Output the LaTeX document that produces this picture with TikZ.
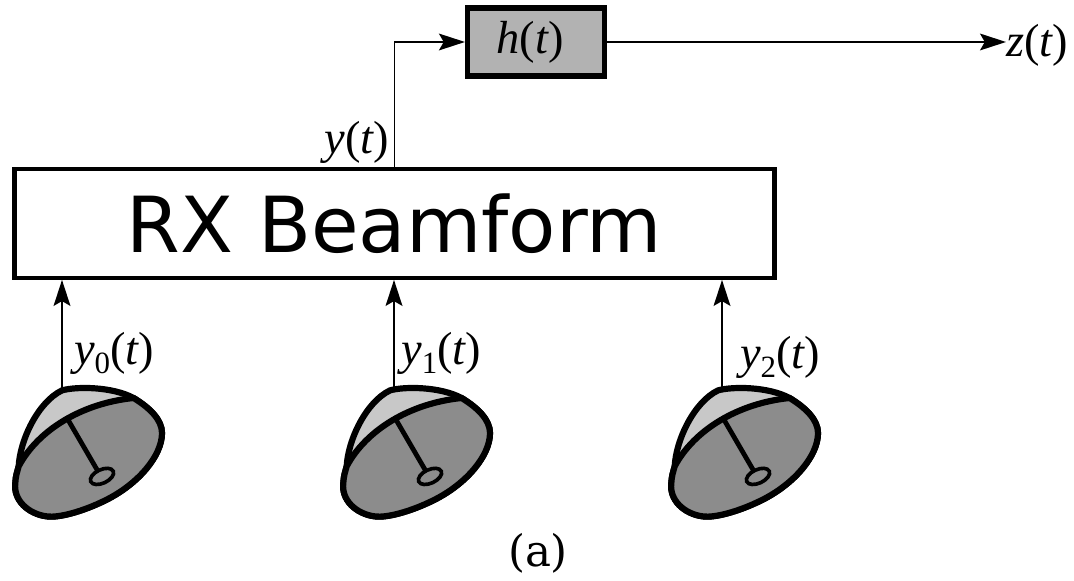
\documentclass[tikz,border=0pt]{standalone}
\usepackage{fontspec}
\setmainfont{DejaVu Sans}
\newfontfamily\timesf{Liberation Serif}
\newfontfamily\captf{DejaVu Serif}
\usetikzlibrary{arrows.meta,positioning}
\definecolor{dishlight}{RGB}{200,200,200}
\definecolor{dishdark}{RGB}{140,140,140}
\definecolor{filtergray}{RGB}{178,178,178}
\newcommand{\sigfn}[1]{{\timesf\itshape #1}{\timesf(}{\timesf\itshape t}{\timesf)}}
\newcommand{\sigsub}[2]{{\timesf\itshape #1}\raisebox{-0.2em}{\timesf\fontsize{22}{22}\selectfont #2}{\timesf(}{\timesf\itshape t}{\timesf)}}
\tikzset{
  rxbox/.style={draw, line width=3pt, fill=white, font=\fontsize{55}{58}\selectfont,
                minimum width=19cm, minimum height=2.72cm, inner sep=0pt},
  filterbox/.style={draw, line width=3.8pt, fill=filtergray, font=\fontsize{33}{36}\selectfont,
                    minimum width=3.42cm, minimum height=1.7cm, inner sep=0pt},
  siglabel/.style={font=\fontsize{33}{36}\selectfont, inner sep=0pt},
  capt/.style={font=\captf\fontsize{31}{34}\selectfont, inner sep=0pt},
  wire/.style={line width=1.2pt, -{Stealth[length=0.65cm, width=0.42cm, inset=0.12cm]}},
  dish/.pic={
    % dome
    \draw[line width=4.4pt, fill=dishlight, line join=round]
      (-1.083,-1.958) .. controls (-1.05,-1.3) and (-0.6,-0.35) .. (0,-0.06)
      .. controls (0.35,0.04) and (1.25,0.04) .. (1.79,-0.25)
      .. controls (2.2,-0.5) and (2.5,-0.8) .. (2.5,-1.125)
      .. controls (2.5,-1.7) and (1.9,-2.4) .. (1.1,-2.8)
      .. controls (0.5,-3.1) and (-0.1,-3.25) .. (-0.375,-3.21)
      .. controls (-0.85,-3.15) and (-1.22,-2.8) .. (-1.167,-2.375)
      .. controls (-1.16,-2.2) and (-1.12,-2.1) .. (-1.083,-1.958) -- cycle;
    % disc
    \draw[line width=4.4pt, fill=dishdark, line join=round]
      (-1.083,-1.958) .. controls (-0.6,-1.05) and (0.5,-0.38) .. (1.79,-0.25)
      .. controls (2.2,-0.5) and (2.5,-0.8) .. (2.5,-1.125)
      .. controls (2.5,-1.7) and (1.9,-2.4) .. (1.1,-2.8)
      .. controls (0.5,-3.1) and (-0.1,-3.25) .. (-0.375,-3.21)
      .. controls (-0.85,-3.15) and (-1.22,-2.8) .. (-1.167,-2.375)
      .. controls (-1.16,-2.2) and (-1.12,-2.1) .. (-1.083,-1.958) -- cycle;
    % feed
    \draw[line width=3.4pt] (0.125,-0.75) -- (0.88,-2.05);
    \draw[line width=2.6pt, fill=dishdark, rotate around={25:(1,-2.21)}] (1,-2.21) ellipse (0.31 and 0.17);
  },
}
\begin{document}
\begin{tikzpicture}

\useasboundingbox (0,0) rectangle (26.85,14.525);

% --- Blocks ---
\node[rxbox] (rx) at (9.86,8.94) {RX Beamform};
\node[filterbox] (filter) at (13.4,13.475) {\sigfn{h}\kern0.3cm};

% --- Output ---
\node[siglabel, anchor=west] (zout) at (25.15,13.4) {\sigfn{z}};
\draw[wire] (filter.east) -- (filter.east -| zout.west);
\draw[wire] (rx.north) |- (filter.west);
\node[siglabel] (yout) at (8.92,10.97) {\sigfn{y}};

% --- Antennas ---
\pic (dish0) at (1.55,4.825) {dish};
\pic (dish1) at (9.75,4.825) {dish};
\pic (dish2) at (17.95,4.825) {dish};

\coordinate (feed0) at (1.55,4.825);
\coordinate (feed1) at (9.85,4.825);
\coordinate (feed2) at (18.05,4.825);
\draw[wire] (feed0) -- (feed0 |- rx.south);
\draw[wire] (feed1) -- (feed1 |- rx.south);
\draw[wire] (feed2) -- (feed2 |- rx.south);

\node[siglabel] (y0) at (2.85,5.7) {\sigsub{y}{0}};
\node[siglabel] (y1) at (11.03,5.7) {\sigsub{y}{1}};
\node[siglabel] (y2) at (19.5,5.6) {\sigsub{y}{2}};

\node[capt] (caption) at (13.45,0.68) {(a)};

\end{tikzpicture}
\end{document}
